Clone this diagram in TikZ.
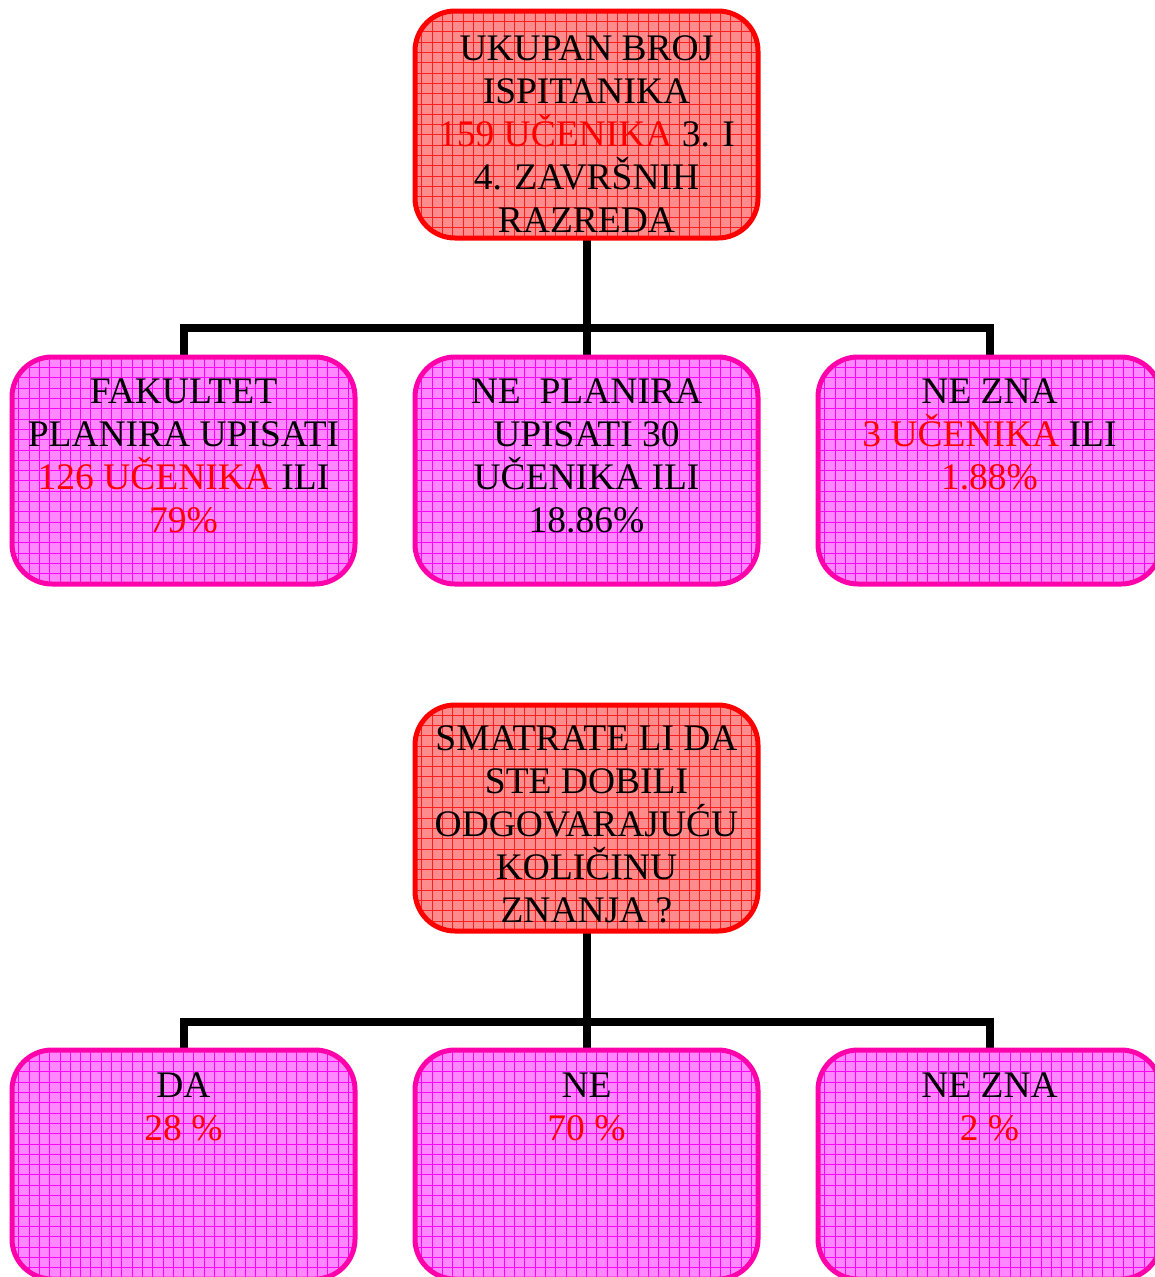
\documentclass[tikz,border=0pt]{standalone}
\usepackage{fontspec}
\setmainfont{Liberation Serif}
\usetikzlibrary{backgrounds}
\definecolor{redfill}{RGB}{255,140,140}
\definecolor{redgrid}{RGB}{255,30,30}
\definecolor{redborder}{RGB}{255,0,0}
\definecolor{pinkfill}{RGB}{255,135,255}
\definecolor{pinkgrid}{RGB}{255,0,255}
\definecolor{pinkborder}{RGB}{255,0,170}
\definecolor{txtred}{RGB}{255,0,0}
\tikzset{
  gbox/.style={rectangle, rounded corners=40pt, line width=5pt, minimum width=343pt, inner sep=0pt, outer sep=0pt},
  headbox/.style={gbox, draw=redborder, fill=redfill, minimum height=227pt,
    path picture={\draw[redgrid, line width=0.75pt, step=10.3pt] (path picture bounding box.south west) grid (path picture bounding box.north east);}},
  leafbox/.style={gbox, draw=pinkborder, fill=pinkfill, minimum height=227pt,
    path picture={\draw[pinkgrid, line width=0.75pt, step=10.3pt] (path picture bounding box.south west) grid (path picture bounding box.north east);}},
  label/.style={anchor=base, align=center, inner sep=0pt, font=\fontsize{37.5}{43}\selectfont, text=black},
  conn/.style={draw=black, line width=8pt, line join=miter, line cap=rect}
}
\newcommand{\rt}[1]{\textcolor{txtred}{#1}}
\begin{document}
\begin{tikzpicture}[x=1pt, y=-1pt]
\useasboundingbox (0,0) rectangle (1155,1277);
% first chart
\node[headbox] (h1) at (586.5,124.5) {};
\node[leafbox] (a1) at (183.5,470.5) {};
\node[leafbox] (a2) at (586.5,470.5) {};
\node[leafbox] (a3) at (989.5,470.5) {};
\node[label] (th1) at (586.5,232) {UKUPAN BROJ\\ISPITANIKA\\\rt{159 UČENIKA} 3. I\\4. ZAVRŠNIH\\RAZREDA};
\node[label] (ta1) at (183.5,532) {FAKULTET\\PLANIRA UPISATI\\\rt{126 UČENIKA} ILI\\\rt{79\%}};
\node[label] (ta2) at (586.5,532) {NE\ \ PLANIRA\\UPISATI 30\\UČENIKA ILI\\18.86\%};
\node[label] (ta3) at (989.5,489) {NE ZNA\\\rt{3 UČENIKA} ILI\\\rt{1.88\%}};
\coordinate (j1) at (586.5,328);
% second chart
\node[headbox, minimum height=226pt] (h2) at (586.5,818) {};
\node[leafbox, minimum height=229pt] (b1) at (183.5,1164.5) {};
\node[leafbox, minimum height=229pt] (b2) at (586.5,1164.5) {};
\node[leafbox, minimum height=229pt] (b3) at (989.5,1164.5) {};
\node[label] (th2) at (586.5,922) {SMATRATE LI DA\\STE DOBILI\\ODGOVARAJUĆU\\KOLIČINU\\ZNANJA ?};
\node[label] (tb1) at (183.5,1140) {DA\\\rt{28 \%}};
\node[label] (tb2) at (586.5,1140) {NE\\\rt{70 \%}};
\node[label] (tb3) at (989.5,1140) {NE ZNA\\\rt{2 \%}};
\coordinate (j2) at (586.5,1022);
\begin{scope}[on background layer]
\draw[conn] (h1.south) -- (j1) -- (a2.north);
\draw[conn] (a1.north) -- (a1.north |- j1) -- (a3.north |- j1) -- (a3.north);
\draw[conn] (h2.south) -- (j2) -- (b2.north);
\draw[conn] (b1.north) -- (b1.north |- j2) -- (b3.north |- j2) -- (b3.north);
\end{scope}
\end{tikzpicture}
\end{document}
